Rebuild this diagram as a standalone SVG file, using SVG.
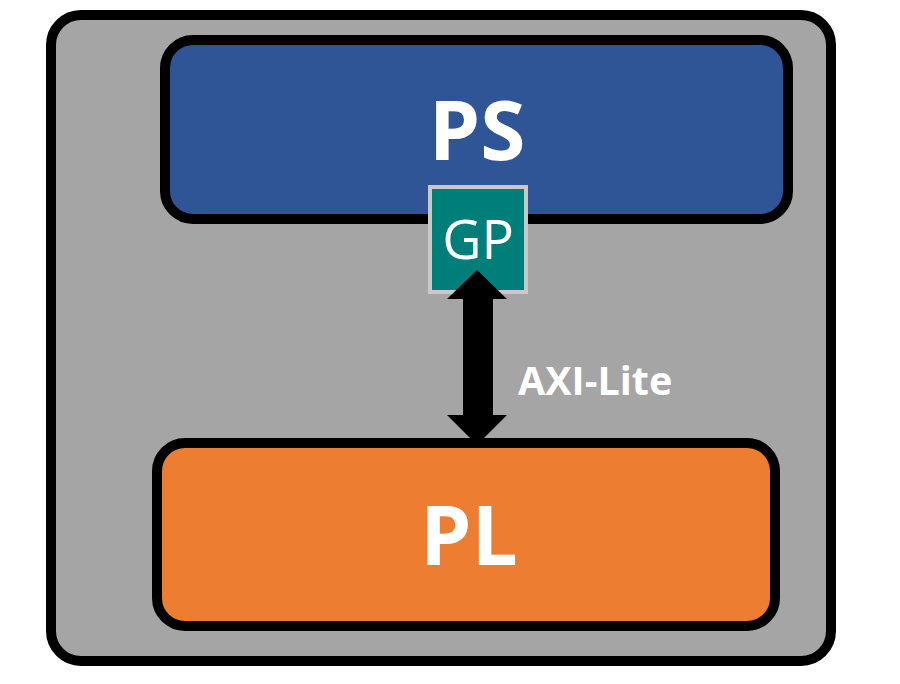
<svg xmlns="http://www.w3.org/2000/svg" width="900" height="684" viewBox="0 0 900 684">
  <defs>
    <style>
      .box { stroke: #000; stroke-width: 10; }
      .big { font-family: "Open Sans", "Liberation Sans", sans-serif; font-weight: bold; fill: #fff; text-anchor: middle; }
    </style>
  </defs>
  <rect width="900" height="684" fill="#fff"/>
  <g id="board">
    <rect class="box" x="51" y="15" width="780" height="646" rx="30" fill="#a5a5a5"/>
  </g>
  <g id="ps">
    <rect class="box" x="165" y="40" width="623" height="179" rx="28" fill="#2f5597"/>
    <text class="big" x="477" y="160" font-size="82">PS</text>
  </g>
  <g id="pl">
    <rect class="box" x="157" y="443" width="618" height="183" rx="28" fill="#ed7d31"/>
    <text class="big" x="469" y="565" font-size="82">PL</text>
  </g>
  <g id="gp">
    <rect x="430" y="187" width="96" height="105" fill="#007f7a" stroke="#c9c9c9" stroke-width="4"/>
    <text x="478" y="259" font-family="'Open Sans', 'Liberation Sans', sans-serif" font-size="54" fill="#fff" text-anchor="middle">GP</text>
  </g>
  <g id="connectors">
    <polygon points="477,270 507,299 493,299 493,415 507,415 477,445 447,415 463,415 463,299 447,299" fill="#000"/>
    <text x="518" y="395" font-family="'Open Sans', 'Liberation Sans', sans-serif" font-weight="bold" font-size="39.5" fill="#fff">AXI-Lite</text>
  </g>
</svg>
